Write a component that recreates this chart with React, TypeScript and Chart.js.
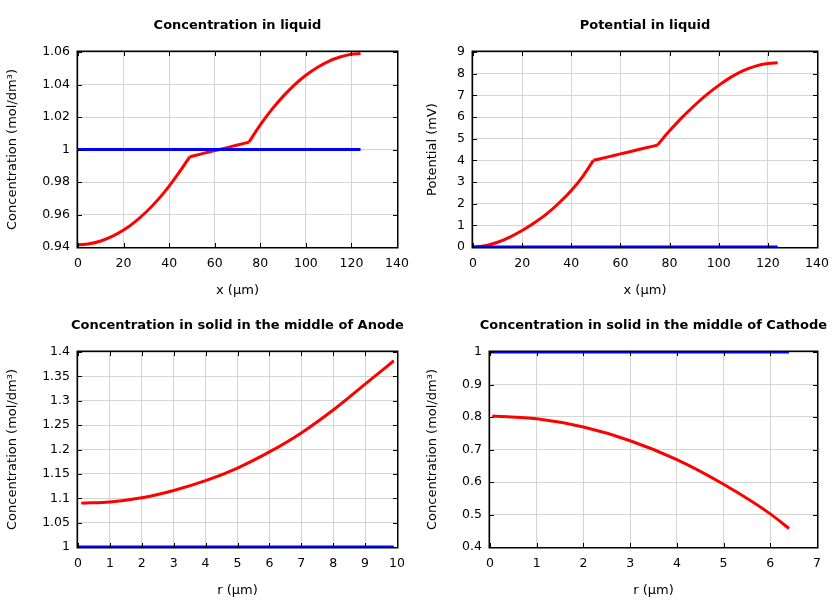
import React, { useEffect, useRef } from "react";
import { Chart, registerables } from "chart.js";

Chart.register(...registerables);

const FONT = "'DejaVu Sans', sans-serif";

// ---- Concentration in liquid ----
const liquidX = [0, 5, 10, 15, 20, 25, 30, 35, 40, 45, 49, 55, 60, 65, 70, 75, 80, 85, 90, 95, 100, 105, 110, 115, 120, 124];
const liquidConc = [0.9414, 0.942, 0.9437, 0.9465, 0.9504, 0.9555, 0.9617, 0.969, 0.9775, 0.9871, 0.9955, 0.9976, 0.9993, 1.001, 1.0028, 1.0045, 1.0151, 1.0245, 1.0327, 1.0398, 1.0457, 1.0505, 1.0543, 1.0569, 1.0586, 1.0591];
const liquidConcInitX = [0, 124];
const liquidConcInit = [1, 1];
// indices of the electrode / separator boundaries (x = 49 and x = 75 µm)
const liquidBreaks = [10, 15];

// ---- Potential in liquid ----
const liquidPot = [0, 0.06, 0.22, 0.46, 0.76, 1.12, 1.53, 2.03, 2.61, 3.31, 4.0, 4.16, 4.3, 4.43, 4.57, 4.7, 5.36, 5.97, 6.52, 7.02, 7.46, 7.84, 8.14, 8.35, 8.47, 8.5];
const liquidPotInitX = [0, 124];
const liquidPotInit = [0, 0];

// ---- Solid, middle of anode ----
const anodeR = [0.1, 1, 2, 3, 4, 5, 6, 7, 8, 9, 9.9];
const anodeConc = [1.09, 1.0925, 1.101, 1.116, 1.136, 1.162, 1.195, 1.234, 1.281, 1.334, 1.382];
const anodeInitR = [0, 9.9];
const anodeInit = [1, 1];

// ---- Solid, middle of cathode ----
const cathodeR = [0.05, 1, 2, 3, 4, 5, 6, 6.4];
const cathodeConc = [0.803, 0.7945, 0.769, 0.727, 0.669, 0.593, 0.502, 0.457];
const cathodeInitR = [0, 6.4];
const cathodeInit = [1, 1];

// ---- axis settings ----
const liquidXTicks = { min: 0, max: 140, step: 20 };
const concLiquidTicks = { min: 0.94, max: 1.06, step: 0.02 };
const potTicks = { min: 0, max: 9, step: 1 };
const anodeRTicks = { min: 0, max: 10, step: 1 };
const anodeConcTicks = { min: 1, max: 1.4, step: 0.05 };
const cathodeRTicks = { min: 0, max: 7, step: 1 };
const cathodeConcTicks = { min: 0.4, max: 1, step: 0.1 };

const concLabel = "Concentration (mol/dm³)";

type Series = { xs: number[]; ys: number[]; color: string; breaks: number[] };
type PanelDef = {
  title: string;
  xTitle: string;
  yTitle: string;
  xt: { min: number; max: number; step: number };
  yt: { min: number; max: number; step: number };
  yWidth: number;
  left: number;
  top: number;
  series: Series[];
};

const BLUE = "#0000ff";
const RED = "#ff0000";

const panels: PanelDef[] = [
  {
    title: "Concentration in liquid",
    xTitle: "x (µm)",
    yTitle: concLabel,
    xt: liquidXTicks,
    yt: concLiquidTicks,
    yWidth: 78,
    left: 0,
    top: 0,
    series: [
      { xs: liquidConcInitX, ys: liquidConcInit, color: BLUE, breaks: [] },
      { xs: liquidX, ys: liquidConc, color: RED, breaks: liquidBreaks },
    ],
  },
  {
    title: "Potential in liquid",
    xTitle: "x (µm)",
    yTitle: "Potential (mV)",
    xt: liquidXTicks,
    yt: potTicks,
    yWidth: 53,
    left: 420,
    top: 0,
    series: [
      { xs: liquidPotInitX, ys: liquidPotInit, color: BLUE, breaks: [] },
      { xs: liquidX, ys: liquidPot, color: RED, breaks: liquidBreaks },
    ],
  },
  {
    title: "Concentration in solid in the middle of Anode",
    xTitle: "r (µm)",
    yTitle: concLabel,
    xt: anodeRTicks,
    yt: anodeConcTicks,
    yWidth: 78,
    left: 0,
    top: 300,
    series: [
      { xs: anodeInitR, ys: anodeInit, color: BLUE, breaks: [] },
      { xs: anodeR, ys: anodeConc, color: RED, breaks: [] },
    ],
  },
  {
    title: "Concentration in solid in the middle of Cathode",
    xTitle: "r (µm)",
    yTitle: concLabel,
    xt: cathodeRTicks,
    yt: cathodeConcTicks,
    yWidth: 70,
    left: 420,
    top: 300,
    series: [
      { xs: cathodeInitR, ys: cathodeInit, color: BLUE, breaks: [] },
      { xs: cathodeR, ys: cathodeConc, color: RED, breaks: [] },
    ],
  },
];

const fmt = (v: number | string) => String(+Number(v).toFixed(4));

function framePlugin(title: string) {
  return {
    id: "frame",
    afterDatasetsDraw(chart: any) {
      const { ctx, chartArea: a, scales } = chart;
      ctx.save();
      ctx.strokeStyle = "#000";
      ctx.lineWidth = 1;
      const tl = 4;
      ctx.beginPath();
      for (const t of scales.x.ticks) {
        const px = Math.round(scales.x.getPixelForValue(t.value)) + 0.5;
        ctx.moveTo(px, a.bottom);
        ctx.lineTo(px, a.bottom - tl);
        ctx.moveTo(px, a.top);
        ctx.lineTo(px, a.top + tl);
      }
      for (const t of scales.y.ticks) {
        const py = Math.round(scales.y.getPixelForValue(t.value)) + 0.5;
        ctx.moveTo(a.left, py);
        ctx.lineTo(a.left + tl, py);
        ctx.moveTo(a.right, py);
        ctx.lineTo(a.right - tl, py);
      }
      ctx.stroke();
      ctx.lineWidth = 1.5;
      ctx.strokeRect(a.left - 0.75, a.top - 0.75, a.right - a.left + 1.5, a.bottom - a.top + 1.5);
      ctx.restore();
    },
    afterDraw(chart: any) {
      const { ctx, chartArea: a } = chart;
      ctx.save();
      ctx.fillStyle = "#000";
      ctx.font = `bold 13px ${FONT}`;
      ctx.textAlign = "center";
      ctx.textBaseline = "middle";
      ctx.fillText(title, (a.left + a.right) / 2, 26);
      ctx.restore();
    },
  };
}

function buildDatasets(series: Series[]) {
  const out: any[] = [];
  for (const s of series) {
    const cuts = [0, ...s.breaks, s.xs.length - 1];
    for (let k = 0; k < cuts.length - 1; k++) {
      const pts = [];
      for (let i = cuts[k]; i <= cuts[k + 1]; i++) pts.push({ x: s.xs[i], y: s.ys[i] });
      out.push({
        data: pts,
        borderColor: s.color,
        backgroundColor: s.color,
        borderWidth: 3,
        pointRadius: 0,
        cubicInterpolationMode: "monotone",
        fill: false,
        clip: 0,
      });
    }
  }
  return out;
}

function Panel({ def }: { def: PanelDef }) {
  const ref = useRef<HTMLCanvasElement>(null);
  useEffect(() => {
    const tickFont = { family: FONT, size: 12.5 };
    const titleFont = { family: FONT, size: 13 };
    const chart = new Chart(ref.current as HTMLCanvasElement, {
      type: "line",
      data: { datasets: buildDatasets(def.series) },
      options: {
        responsive: false,
        animation: false,
        events: [],
        layout: { padding: { top: 52, right: 23, left: 0, bottom: 0 } },
        plugins: {
          legend: { display: false },
          tooltip: { enabled: false },
          title: { display: false },
        },
        scales: {
          x: {
            type: "linear",
            min: def.xt.min,
            max: def.xt.max,
            ticks: {
              stepSize: def.xt.step,
              color: "#000",
              font: tickFont,
              padding: 9,
              maxRotation: 0,
              autoSkip: false,
              callback: (v: any) => fmt(v),
            },
            grid: { color: "#d4d4d4", drawTicks: false, lineWidth: 1 },
            border: { display: false },
            title: { display: true, text: def.xTitle, color: "#000", font: titleFont, padding: { top: 0, bottom: 2 } },
            afterFit: (s: any) => {
              s.height = 53;
            },
          },
          y: {
            type: "linear",
            min: def.yt.min,
            max: def.yt.max,
            ticks: {
              stepSize: def.yt.step,
              color: "#000",
              font: tickFont,
              padding: 8,
              autoSkip: false,
              callback: (v: any) => fmt(v),
            },
            grid: { color: "#d4d4d4", drawTicks: false, lineWidth: 1 },
            border: { display: false },
            title: { display: true, text: def.yTitle, color: "#000", font: titleFont, padding: { top: 5, bottom: 0 } },
            afterFit: (s: any) => {
              s.width = def.yWidth;
            },
          },
        },
      } as any,
      plugins: [framePlugin(def.title)],
    });
    return () => chart.destroy();
  }, [def]);
  return (
    <canvas
      ref={ref}
      width={420}
      height={300}
      style={{ position: "absolute", left: def.left, top: def.top, width: 420, height: 300 }}
    />
  );
}

export default function App() {
  return (
    <div style={{ position: "absolute", left: 0, top: 0, width: 840, height: 600, background: "#fff" }}>
      {panels.map((p, i) => (
        <Panel key={i} def={p} />
      ))}
    </div>
  );
}
